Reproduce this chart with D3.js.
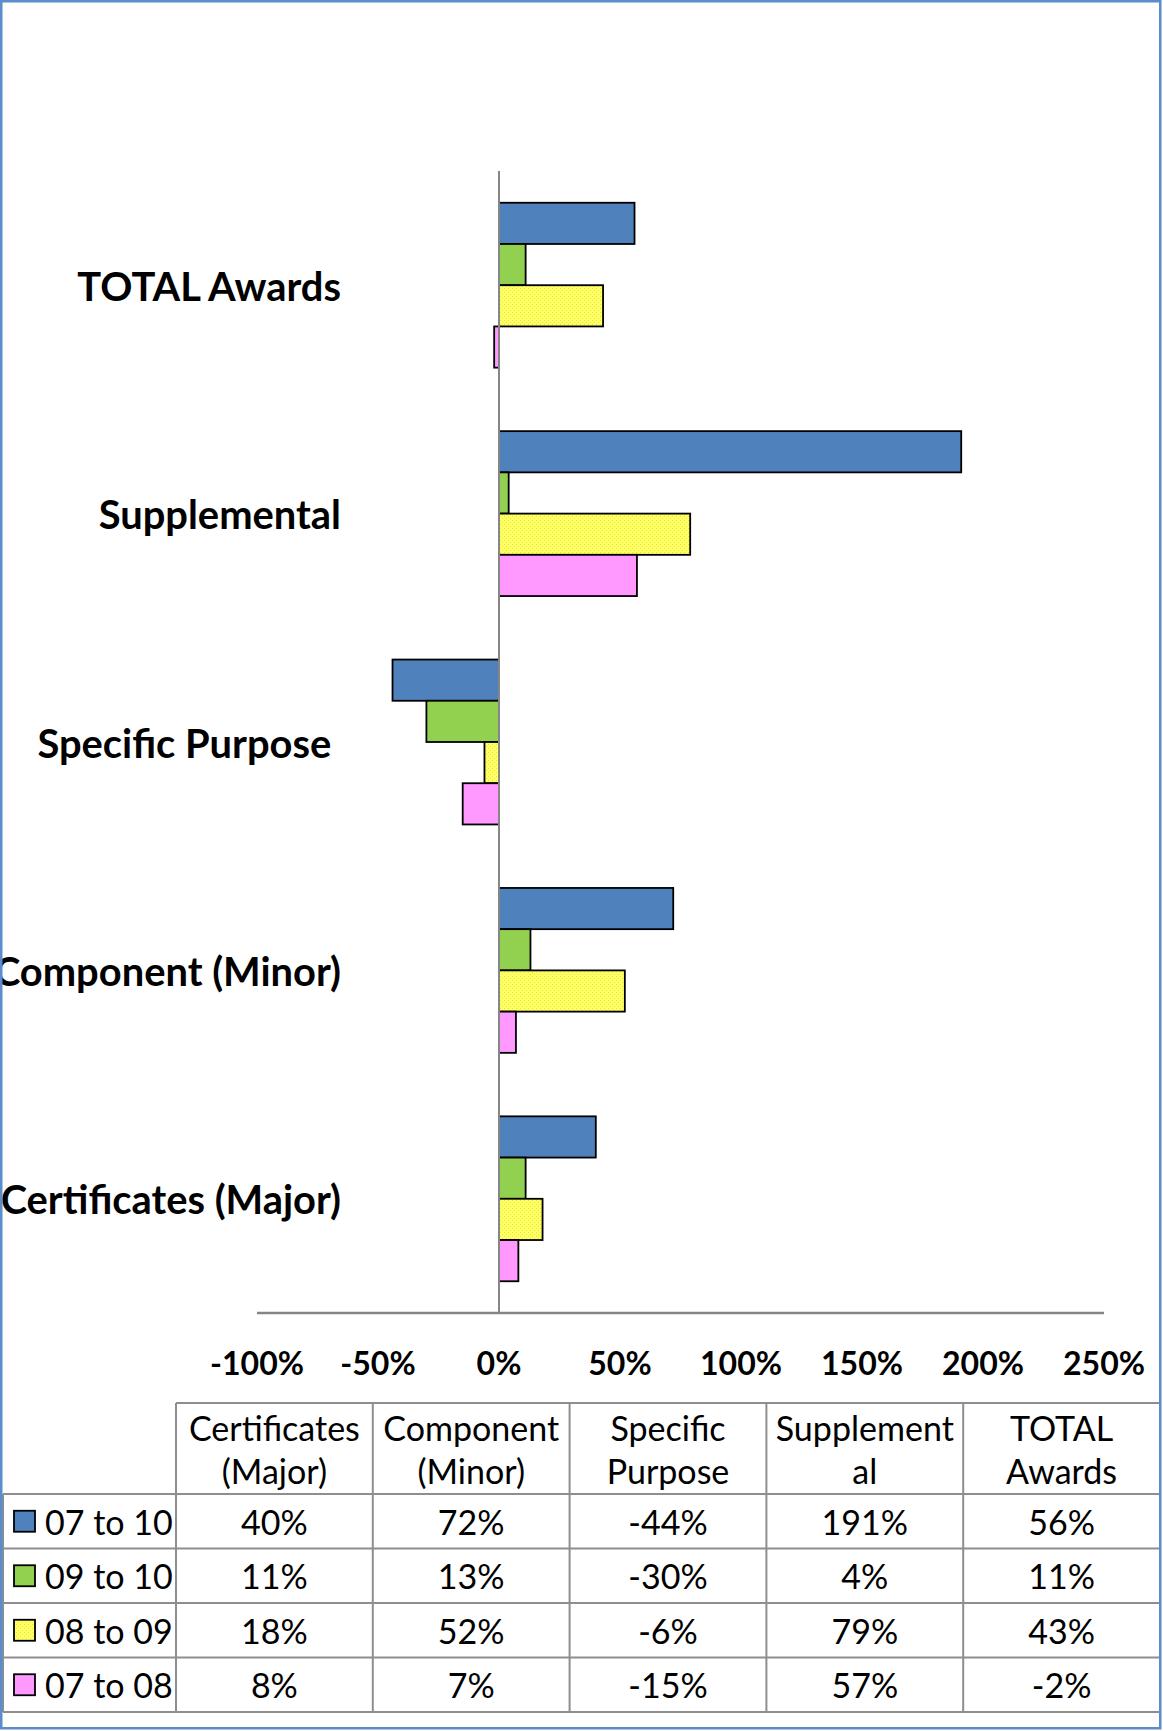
<!DOCTYPE html>
<html><head><meta charset="utf-8">
<script src="https://cdn.jsdelivr.net/npm/d3@7"></script>
<style>body{margin:0;background:#fff;overflow:hidden}</style>
</head><body><svg id="c" width="1163" height="1731"></svg>
<script>
const categories = ["Certificates (Major)", "Component (Minor)", "Specific Purpose ", "Supplemental", "TOTAL Awards"];
const tableHeaders = [["Certificates", "(Major)"], ["Component", "(Minor)"], ["Specific", "Purpose"], ["Supplement", "al"], ["TOTAL", "Awards"]];
const seriesNames = ["07 to 10", "09 to 10", "08 to 09", "07 to 08"];
const s0710 = [40, 72, -44, 191, 56];
const s0910 = [11, 13, -30, 4, 11];
const s0809 = [18, 52, -6, 79, 43];
const s0708 = [8, 7, -15, 57, -2];
const tickValues = [-100, -50, 0, 50, 100, 150, 200, 250];
const seriesColors = ["#4F81BD", "#92D050", "#FFFF66", "#FF99FF"];

const seriesValues = [s0710, s0910, s0809, s0708];
const FONT = "Lato, 'Open Sans', sans-serif";
const svg = d3.select("#c");

const defs = svg.append("defs");
const pat = defs.append("pattern").attr("id", "dots").attr("width", 4).attr("height", 4).attr("patternUnits", "userSpaceOnUse");
pat.append("rect").attr("width", 4).attr("height", 4).attr("fill", "#FFFF66");
pat.append("rect").attr("x", 0).attr("y", 0).attr("width", 1).attr("height", 1).attr("fill", "#E6E633");
pat.append("rect").attr("x", 2).attr("y", 2).attr("width", 1).attr("height", 1).attr("fill", "#E6E633");
const fillFor = i => i === 2 ? "url(#dots)" : seriesColors[i];

function fitSize(txt, weight, target) {
  const t = svg.append("text").attr("font-family", FONT).attr("font-weight", weight).attr("font-size", 100).text(txt);
  const w = t.node().getComputedTextLength();
  t.remove();
  return 100 * target / w;
}
const catSize = fitSize("TOTAL AwardsSupplemental", "bold", 506);
const tickSize = fitSize("100%", "bold", 82);
const tabSize = fitSize("Certificates", "normal", 171);

const x = d3.scaleLinear().domain([-100, 250]).range([257, 1104]);
const y = d3.scaleBand().domain(categories.slice().reverse()).range([171, 1313]).paddingInner(0.278).paddingOuter(0.139);
const ys = d3.scaleBand().domain(seriesNames).range([0, y.bandwidth()]);

// category labels
svg.append("g").selectAll("text").data(categories).join("text")
  .attr("x", 341).attr("y", d => y(d) + y.bandwidth() / 2)
  .attr("text-anchor", "end").attr("dominant-baseline", "central")
  .attr("font-family", FONT).attr("font-weight", "bold").attr("font-size", catSize)
  .style("white-space", "pre").attr("fill", "#000").text(d => d);

// bars
seriesNames.forEach((s, si) => {
  svg.append("g").selectAll("rect").data(categories).join("rect")
    .attr("x", (d, i) => x(Math.min(0, seriesValues[si][i])))
    .attr("y", d => y(d) + ys(s))
    .attr("width", (d, i) => Math.abs(x(seriesValues[si][i]) - x(0)))
    .attr("height", ys.bandwidth())
    .attr("fill", fillFor(si)).attr("stroke", "#000").attr("stroke-width", 1.8);
});

// axes
const axisColor = "#868686";
svg.append("line").attr("x1", x(0)).attr("x2", x(0)).attr("y1", 171).attr("y2", 1313)
  .attr("stroke", axisColor).attr("stroke-width", 2);
svg.append("line").attr("x1", x(-100)).attr("x2", x(250)).attr("y1", 1313).attr("y2", 1313)
  .attr("stroke", axisColor).attr("stroke-width", 2.5);
svg.append("g").selectAll("text").data(tickValues).join("text")
  .attr("x", d => x(d)).attr("y", 1362)
  .attr("text-anchor", "middle").attr("dominant-baseline", "central")
  .attr("font-family", FONT).attr("font-weight", "bold").attr("font-size", tickSize)
  .text(d => d + "%");

// data table
const col = d3.scaleBand().domain(categories).range([176, 1160]);
const row = d3.scaleBand().domain(seriesNames).range([1494, 1712]);
const tbl = svg.append("g");
const gridColor = "#8E8E8E";
tbl.append("line").attr("x1", 176).attr("x2", 1160).attr("y1", 1403).attr("y2", 1403).attr("stroke", gridColor).attr("stroke-width", 2);
[...seriesNames.map(s => row(s)), 1712].forEach(yy =>
  tbl.append("line").attr("x1", 3).attr("x2", 1160).attr("y1", yy).attr("y2", yy).attr("stroke", gridColor).attr("stroke-width", 2));
[...categories.map(c => col(c)), 1160].forEach(xx =>
  tbl.append("line").attr("x1", xx).attr("x2", xx).attr("y1", 1403).attr("y2", 1712).attr("stroke", gridColor).attr("stroke-width", 2));
tbl.append("line").attr("x1", 3).attr("x2", 3).attr("y1", 1494).attr("y2", 1712).attr("stroke", gridColor).attr("stroke-width", 2);

categories.forEach((c, ci) => {
  tableHeaders[ci].forEach((ln, li) => {
    tbl.append("text").attr("x", col(c) + col.bandwidth() / 2).attr("y", 1427 + li * 43)
      .attr("text-anchor", "middle").attr("dominant-baseline", "central")
      .attr("font-family", FONT).attr("font-size", tabSize).text(ln);
  });
});
seriesNames.forEach((s, si) => {
  const cy = row(s) + row.bandwidth() / 2;
  tbl.append("rect").attr("x", 14).attr("y", cy - 10.5).attr("width", 21).attr("height", 21)
    .attr("fill", fillFor(si)).attr("stroke", "#000").attr("stroke-width", 1.8);
  tbl.append("text").attr("x", 45).attr("y", cy).attr("dominant-baseline", "central")
    .attr("font-family", FONT).attr("font-size", tabSize).text(s);
  categories.forEach((c, ci) => {
    tbl.append("text").attr("x", col(c) + col.bandwidth() / 2).attr("y", cy)
      .attr("text-anchor", "middle").attr("dominant-baseline", "central")
      .attr("font-family", FONT).attr("font-size", tabSize).text(seriesValues[si][ci] + "%");
  });
});

// chart border
svg.append("rect").attr("x", 1.25).attr("y", 1.25).attr("width", 1159).attr("height", 1727)
  .attr("fill", "none").attr("stroke", "#5B8CCB").attr("stroke-width", 2.5);
</script></body></html>
